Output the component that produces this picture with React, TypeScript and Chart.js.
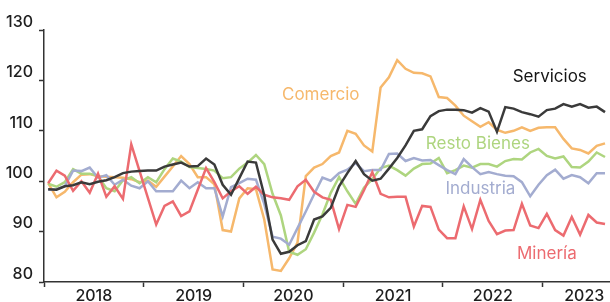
import React, { useEffect, useRef } from 'react';
import { Chart, registerables } from 'chart.js';

Chart.register(...registerables);

// Monthly index (Jan 2018 = 0 ... Aug 2023 = 67)
const yearLabels = ['2018', '2019', '2020', '2021', '2022', '2023'];
const yTicks = [80, 90, 100, 110, 120, 130];

const servicios = [
  98.4, 98.3, 99.0, 99.2, 99.8, 99.4, 99.9, 100.2, 100.8, 101.6, 101.9, 102.0,
  102.1, 102.1, 102.9, 103.3, 103.7, 102.9, 103.0, 104.5, 103.3, 99.3, 97.3, 100.6,
  103.9, 103.7, 97.2, 88.4, 85.6, 86.0, 87.3, 88.1, 92.4, 93.0, 94.7, 99.0,
  101.6, 104.0, 101.4, 100.1, 100.5, 102.5, 104.6, 107.1, 110.0, 110.3, 112.9, 113.9,
  114.2, 114.2, 114.1, 113.6, 114.5, 113.8, 109.8, 114.7, 114.4, 113.7, 113.3, 112.8,
  114.1, 114.4, 115.3, 114.8, 115.3, 114.6, 114.8, 113.7,
];

const comercio = [
  99.6, 96.8, 97.9, 99.8, 101.3, 101.4, 101.0, 100.9, 100.8, 100.7, 100.4, 99.8,
  100.1, 98.9, 100.9, 102.9, 105.0, 103.4, 100.8, 100.8, 99.4, 90.3, 90.0, 96.6,
  98.6, 98.4, 92.4, 82.5, 82.2, 84.7, 87.8, 101.0, 102.7, 103.4, 105.0, 105.7,
  110.0, 109.4, 107.1, 105.9, 118.6, 120.6, 124.0, 122.3, 121.5, 121.4, 120.8, 116.7,
  116.5, 115.0, 113.0, 111.9, 110.8, 111.7, 110.2, 109.6, 110.0, 110.7, 110.0, 110.6,
  110.7, 110.7, 108.4, 106.5, 106.2, 105.5, 107.0, 107.5,
];

const restoBienes = [
  99.5, 98.9, 99.8, 102.4, 101.5, 101.5, 101.0, 98.6, 98.0, 100.2, 100.8, 99.6,
  100.8, 99.8, 102.4, 104.5, 103.9, 102.8, 102.6, 102.4, 102.1, 100.6, 100.8, 102.5,
  103.7, 105.2, 103.4, 97.5, 93.2, 86.0, 85.4, 86.5, 89.8, 93.4, 97.7, 100.8,
  98.0, 95.5, 98.7, 100.4, 102.6, 103.1, 102.2, 101.1, 102.5, 103.4, 103.5, 104.6,
  101.6, 102.2, 103.1, 102.7, 103.4, 103.4, 102.9, 104.0, 104.4, 104.3, 105.7, 106.4,
  105.0, 104.5, 104.9, 102.8, 102.7, 103.9, 105.7, 104.8,
];

const industria = [
  98.3, 98.4, 99.0, 102.1, 102.0, 102.7, 100.7, 101.2, 99.3, 100.3, 99.1, 98.6,
  100.0, 98.0, 98.0, 98.0, 100.1, 98.6, 99.8, 98.6, 98.6, 93.0, 98.8, 99.6,
  100.5, 100.3, 95.5, 89.0, 88.6, 87.4, 90.7, 94.0, 97.4, 100.7, 100.1, 101.6,
  102.3, 103.6, 102.0, 102.2, 102.2, 105.4, 105.5, 104.0, 104.6, 104.1, 104.2, 103.2,
  102.2, 101.4, 104.4, 102.8, 101.4, 101.8, 101.4, 101.1, 101.0, 99.8, 97.0, 99.3,
  101.2, 102.3, 100.5, 101.2, 100.8, 99.6, 101.6, 101.6,
];

const mineria = [
  99.6, 102.1, 101.1, 98.1, 100.0, 97.7, 101.5, 96.9, 99.0, 96.5, 107.3, 102.0,
  96.7, 91.4, 95.1, 96.0, 93.1, 94.0, 98.3, 102.6, 99.8, 96.6, 98.0, 99.0,
  97.5, 98.9, 97.3, 96.8, 96.6, 96.3, 99.0, 100.3, 97.9, 96.8, 96.3, 90.5,
  95.3, 94.9, 98.2, 101.8, 97.5, 96.8, 96.9, 96.9, 91.0, 95.1, 94.9, 90.4,
  88.7, 88.7, 95.0, 90.5, 96.3, 92.1, 89.5, 90.2, 90.3, 95.5, 91.2, 90.7,
  93.5, 90.3, 89.2, 92.9, 89.4, 93.3, 91.8, 91.5,
];

const seriesNames = ['Servicios', 'Minería', 'Industria', 'Resto Bienes', 'Comercio'];
const seriesData = [servicios, mineria, industria, restoBienes, comercio];
const seriesColors = ['#3a3a3a', '#ec6b70', '#a3acd0', '#aed57f', '#f6b86c'];
const labelColors = ['#151515', '#ec6b70', '#a3acd0', '#aed57f', '#f6b86c'];
// in-chart label anchors (month index, value)
const labelAnchors = [
  [60.35, 120.7],
  [60.0, 85.65],
  [52.0, 98.55],
  [51.7, 107.5],
  [32.8, 117.2],
];

const FONT = 'Inter, "Open Sans", sans-serif';

export default function App() {
  const ref = useRef<HTMLCanvasElement>(null);

  useEffect(() => {
    if (!ref.current) return;
    const xMin = -0.5;
    const xMax = 67.6;
    const boundaries = yearLabels.map((_, k) => k * 12 - 0.5);
    const mids = yearLabels.map((_, k) => Math.min(k * 12 + 5.5, xMax - 3.1));
    const labelAt = new Map<number, string>();
    mids.forEach((m, k) => labelAt.set(m, yearLabels[k]));
    const allTicks = [...boundaries, ...mids].sort((a, b) => a - b);

    const labelPlugin = {
      id: 'seriesLabels',
      afterDatasetsDraw(chart: any) {
        const { ctx, scales } = chart;
        ctx.save();
        ctx.font = `400 17px ${FONT}`;
        ctx.textAlign = 'center';
        ctx.textBaseline = 'middle';
        seriesNames.forEach((name, i) => {
          ctx.fillStyle = labelColors[i];
          ctx.fillText(
            name,
            scales.x.getPixelForValue(labelAnchors[i][0]),
            scales.y.getPixelForValue(labelAnchors[i][1])
          );
        });
        ctx.restore();
      },
    };

    const chart = new Chart(ref.current, {
      type: 'line',
      data: {
        datasets: seriesNames.map((name, i) => ({
          label: name,
          data: seriesData[i].map((v, idx) => ({ x: idx, y: v })),
          borderColor: seriesColors[i],
          backgroundColor: seriesColors[i],
          borderWidth: 2.5,
          pointRadius: 0,
          tension: 0,
          fill: false,
        })),
      },
      options: {
        responsive: false,
        animation: false,
        layout: { padding: { top: 30, left: 0, right: 0, bottom: 0 } },
        plugins: {
          legend: { display: false },
          tooltip: { enabled: false },
        },
        scales: {
          x: {
            type: 'linear',
            min: xMin,
            max: xMax,
            afterBuildTicks: (scale: any) => {
              scale.ticks = allTicks.map((v) => ({ value: v }));
            },
            afterFit: (scale: any) => {
              scale.height = 20;
            },
            ticks: {
              autoSkip: false,
              maxRotation: 0,
              padding: 0,
              color: '#1e1e1e',
              font: { family: FONT, size: 16, weight: '500' },
              callback: (v: any) => labelAt.get(Number(v)) ?? '',
            },
            grid: {
              drawOnChartArea: false,
              drawTicks: true,
              tickLength: 5,
              tickWidth: 1.5,
              tickColor: (ctx: any) =>
                ctx.tick && labelAt.has(ctx.tick.value) ? 'rgba(0,0,0,0)' : '#333',
            },
            border: { display: true, color: '#333', width: 1.5 },
          },
          y: {
            min: 80,
            max: 130,
            afterBuildTicks: (scale: any) => {
              scale.ticks = yTicks.map((v) => ({ value: v }));
            },
            afterFit: (scale: any) => {
              scale.width = 44;
            },
            ticks: {
              padding: 6,
              labelOffset: -8,
              color: '#1e1e1e',
              font: { family: FONT, size: 16, weight: '500' },
            },
            grid: {
              drawOnChartArea: false,
              drawTicks: true,
              tickLength: 5,
              tickWidth: 1.5,
              tickColor: '#333',
            },
            border: { display: true, color: '#333', width: 1.5 },
          },
        },
      },
      plugins: [labelPlugin],
    });
    return () => chart.destroy();
  }, []);

  return (
    <canvas
      ref={ref}
      width={610}
      height={302}
      style={{ position: 'absolute', left: 0, top: 0, width: 610, height: 302, display: 'block' }}
    />
  );
}
